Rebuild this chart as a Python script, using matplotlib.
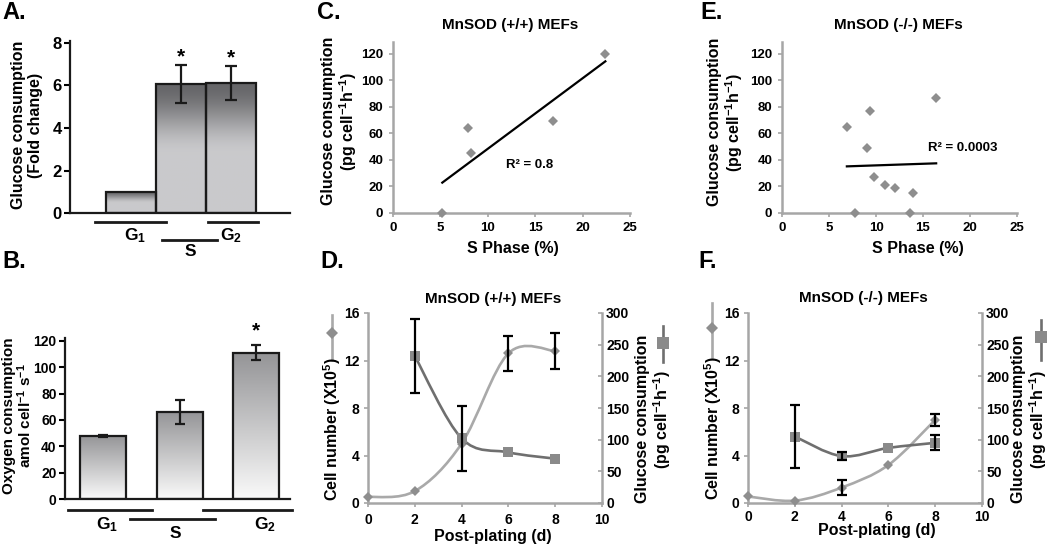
import numpy as np
import matplotlib
matplotlib.use('Agg')
import matplotlib.pyplot as plt
from matplotlib.path import Path
from matplotlib.patches import PathPatch
from matplotlib.lines import Line2D

plt.rcParams['font.family'] = ['Liberation Sans', 'DejaVu Sans']
plt.rcParams['font.weight'] = 'bold'
plt.rcParams['mathtext.fontset'] = 'custom'
plt.rcParams['mathtext.rm'] = 'Liberation Sans:bold'
plt.rcParams['mathtext.it'] = 'Liberation Sans:bold'
plt.rcParams['mathtext.bf'] = 'Liberation Sans:bold'
plt.rcParams['mathtext.sf'] = 'Liberation Sans:bold'
plt.rcParams['mathtext.default'] = 'regular'

nan = np.nan

# ---------------- data ----------------
phases = ['G$_1$', 'S', 'G$_2$']
glc_fold = [1.0, 6.05, 6.1]
glc_fold_err = [nan, 0.9, 0.8]
oxy = [48.0, 66.0, 111.0]
oxy_err = [0.8, 9.3, 5.7]

c_sphase = [5.2, 7.9, 8.2, 16.9, 22.4]
c_glc = [0, 64, 45, 69, 120]
e_sphase = [6.9, 7.8, 9.0, 9.4, 9.8, 11.0, 12.0, 13.6, 13.9, 16.4]
e_glc = [65, 0, 49, 77, 27, 21, 19, 0, 15, 87]

days = [0, 2, 4, 6, 8]
glc_days = [2, 4, 6, 8]
d_cells = [0.5, 1.0, 5.0, 12.6, 12.8]
d_cells_err = [nan, nan, nan, 1.5, 1.5]
d_glc = [232, 102, 80, 70]
d_glc_err = [58, 51, nan, nan]
f_cells = [0.55, 0.2, 1.3, 3.2, 7.0]
f_cells_err = [nan, nan, 0.65, nan, 0.5]
f_glc = [105, 74, 87, 95]
f_glc_err = [49, 6, nan, 12]

# ---------------- helpers ----------------
W, H = 1050, 547
fig = plt.figure(figsize=(10.5, 5.47), dpi=100)

def add_ax(l, t, r, b):
    return fig.add_axes([l / W, 1 - b / H, (r - l) / W, (b - t) / H])

def ftext(x, y, s, **kw):
    kw.setdefault('ha', 'center')
    kw.setdefault('va', 'center')
    return fig.text(x / W, 1 - y / H, s, **kw)

def fline(xs, ys, **kw):
    fig.add_artist(Line2D([x / W for x in xs], [1 - y / H for y in ys],
                          transform=fig.transFigure, **kw))

def smooth_path(x, y):
    x = np.asarray(x, float); y = np.asarray(y, float)
    n = len(x)
    verts = [(x[0], y[0])]
    codes = [Path.MOVETO]
    for i in range(n - 1):
        xp, yp = (x[i - 1], y[i - 1]) if i > 0 else (x[i], y[i])
        xn, yn = (x[i + 2], y[i + 2]) if i + 2 < n else (x[i + 1], y[i + 1])
        c1 = (x[i] + (x[i + 1] - xp) / 6, y[i] + (y[i + 1] - yp) / 6)
        c2 = (x[i + 1] - (xn - x[i]) / 6, y[i + 1] - (yn - y[i]) / 6)
        verts += [c1, c2, (x[i + 1], y[i + 1])]
        codes += [Path.CURVE4] * 3
    return Path(verts, codes)

def gradient_bars(ax, bars, top_rgb, bot_rgb, knee):
    t = np.linspace(0, 1, 256)
    f = np.clip((t - knee) / (1 - knee), 0, 1)
    f = f * f * (3 - 2 * f) if knee > 0 else t
    top = np.array(top_rgb); bot = np.array(bot_rgb)
    img = (bot[None, :] * (1 - f[:, None]) + top[None, :] * f[:, None]).reshape(256, 1, 3)
    for b in bars:
        x0, y0 = b.get_x(), b.get_y()
        w, h = b.get_width(), b.get_height()
        im = ax.imshow(img, extent=[x0, x0 + w, y0, y0 + h], origin='lower',
                       aspect='auto', zorder=1, interpolation='bilinear')
        im.set_clip_path(b)

GRAY_SP = '#a6a6a6'

# ---------------- Panel A ----------------
axA = add_ax(70, 41, 290, 213.3)
xa = np.arange(len(phases))
barsA = axA.bar(xa, glc_fold, width=1.0, facecolor='none', edgecolor='#1a1a1a',
                linewidth=1.6, zorder=3)
gradient_bars(axA, barsA, (0.40, 0.40, 0.41), (0.79, 0.79, 0.80), 0.45)
axA.errorbar(xa, glc_fold, yerr=glc_fold_err, fmt='none', ecolor='#1a1a1a',
             elinewidth=1.6, capsize=4, capthick=1.6, zorder=4)
for xi, v, e in zip(xa, glc_fold, glc_fold_err):
    if not np.isnan(e):
        axA.text(xi, v + e + 0.4, '*', ha='center', va='center', fontsize=15)
axA.set_xlim(-1.22, 3.18)
axA.set_ylim(0, 8.08)
axA.set_yticks([0, 2, 4, 6, 8])
axA.set_xticks([])
for s in ['top', 'right']:
    axA.spines[s].set_visible(False)
for s in ['left', 'bottom']:
    axA.spines[s].set_linewidth(1.6)
    axA.spines[s].set_color('#1a1a1a')
axA.tick_params(axis='y', direction='out', length=4, width=1.5, labelsize=12, pad=2)

fline([95, 166], [222, 222], color='#1a1a1a', lw=2)
fline([162, 217], [240, 240], color='#1a1a1a', lw=2)
fline([208, 258], [222, 222], color='#1a1a1a', lw=2)
ftext(135, 236, phases[0], fontsize=12.5)
ftext(190, 252, phases[1], fontsize=12.5)
ftext(231, 236, phases[2], fontsize=12.5)
ftext(27, 125, 'Glucose consumption\n(Fold change)', rotation=90, fontsize=11.5,
      linespacing=1.15)

# ---------------- Panel B ----------------
axB = add_ax(65, 338, 290, 499.3)
xb = np.arange(len(phases))
barsB = axB.bar(xb, oxy, width=0.6, facecolor='none', edgecolor='#1a1a1a',
                linewidth=1.6, zorder=3)
gradient_bars(axB, barsB, (0.58, 0.58, 0.59), (0.98, 0.98, 0.98), 0.0)
axB.errorbar(xb, oxy, yerr=oxy_err, fmt='none', ecolor='#1a1a1a',
             elinewidth=1.6, capsize=3.5, capthick=1.6, zorder=4)
axB.text(xb[2], oxy[2] + oxy_err[2] + 11, '*', ha='center', va='center', fontsize=15,
         clip_on=False)
axB.set_xlim(-0.495, 2.44)
axB.set_ylim(0, 122)
axB.set_yticks(range(0, 121, 20))
axB.set_xticks([])
for s in ['top', 'right']:
    axB.spines[s].set_visible(False)
for s in ['left', 'bottom']:
    axB.spines[s].set_linewidth(1.6)
    axB.spines[s].set_color('#1a1a1a')
axB.tick_params(axis='y', direction='out', length=4, width=1.5, labelsize=10, pad=2)

fline([68, 152], [510, 510], color='#1a1a1a', lw=2)
fline([130, 215], [519, 519], color='#1a1a1a', lw=2)
fline([203, 292], [510, 510], color='#1a1a1a', lw=2)
ftext(107, 525, phases[0], fontsize=12.5)
ftext(175, 534, phases[1], fontsize=12.5)
ftext(265, 525, phases[2], fontsize=12.5)
ftext(18, 416, 'Oxygen consumption\namol cell$^{-1}$ s$^{-1}$', rotation=90,
      fontsize=11, linespacing=1.0)

# ---------------- scatter panels C / E ----------------
def scatter_panel(ax, xs, ys):
    ax.plot(xs, ys, linestyle='none', marker='D', markersize=5.2,
            color='#8e8e8e', markeredgewidth=0, zorder=3, clip_on=False)
    k, c = np.polyfit(xs, ys, 1)
    xl = np.array([min(xs), max(xs)])
    ax.plot(xl, k * xl + c, color='black', lw=1.6, zorder=4)
    ax.set_xlim(0, 25)
    ax.set_ylim(0, 129)
    ax.set_xticks(range(0, 26, 5))
    ax.set_yticks(range(0, 121, 20))
    for s in ['top', 'right']:
        ax.spines[s].set_visible(False)
    for s in ['left', 'bottom']:
        ax.spines[s].set_linewidth(1.8)
        ax.spines[s].set_color(GRAY_SP)
    ax.tick_params(direction='out', length=3, width=1.2, color=GRAY_SP,
                   labelsize=9.5, pad=4)

axC = add_ax(393, 42, 630, 212.7)
scatter_panel(axC, c_sphase, c_glc)
axE = add_ax(782, 42, 1017, 212.7)
scatter_panel(axE, e_sphase, e_glc)

ftext(510, 25, 'MnSOD (+/+) MEFs', fontsize=11)
ftext(898, 25, 'MnSOD (-/-) MEFs', fontsize=11)
ftext(513, 248, 'S Phase (%)', fontsize=11.5)
ftext(918, 248, 'S Phase (%)', fontsize=11.5)
ftext(530, 165, 'R² = 0.8', fontsize=9.5)
ftext(963, 148, 'R² = 0.0003', fontsize=9.5)
ftext(340, 121, 'Glucose consumption\n(pg cell$^{-1}$h$^{-1}$)', rotation=90,
      fontsize=11.5, linespacing=1.1)
ftext(726, 122, 'Glucose consumption\n(pg cell$^{-1}$h$^{-1}$)', rotation=90,
      fontsize=11.5, linespacing=1.1)

# ---------------- growth panels D / F ----------------
CELL_LINE = '#a9a9a9'
CELL_MK = '#8e8e8e'
GLC_LINE = '#6f6f6f'
GLC_MK = '#8a8a8a'

def growth_panel(ax, cells, cells_err, glc, glc_err, xpad):
    ax.add_patch(PathPatch(smooth_path(days, cells), facecolor='none',
                           edgecolor=CELL_LINE, lw=1.9, zorder=2))
    ax.plot(days, cells, linestyle='none', marker='D', markersize=5,
            color=CELL_MK, markeredgewidth=0, zorder=3, clip_on=False)
    ax.errorbar(days, cells, yerr=cells_err, fmt='none', ecolor='black',
                elinewidth=1.6, capsize=3.5, capthick=1.6, zorder=5)
    ax.set_xlim(0, 10)
    ax.set_ylim(0, 16)
    ax.set_xticks(range(0, 11, 2))
    ax.set_yticks(range(0, 17, 4))
    for s in ['top', 'right']:
        ax.spines[s].set_visible(False)
    for s in ['left', 'bottom']:
        ax.spines[s].set_linewidth(1.8)
        ax.spines[s].set_color(GRAY_SP)
    ax.tick_params(direction='out', length=3, width=1.2, color=GRAY_SP,
                   labelsize=10, pad=3)
    ax.tick_params(axis='x', pad=xpad)
    tw = ax.twinx()
    tw.add_patch(PathPatch(smooth_path(glc_days, glc), facecolor='none',
                           edgecolor=GLC_LINE, lw=1.9, zorder=2))
    tw.plot(glc_days, glc, linestyle='none', marker='s', markersize=7.5,
            color=GLC_MK, markeredgewidth=0, zorder=3)
    tw.errorbar(glc_days, glc, yerr=glc_err, fmt='none', ecolor='black',
                elinewidth=1.6, capsize=3.5, capthick=1.6, zorder=5)
    tw.set_ylim(0, 300)
    tw.set_yticks(range(0, 301, 50))
    for s in ['top', 'left', 'bottom']:
        tw.spines[s].set_visible(False)
    tw.spines['right'].set_linewidth(1.8)
    tw.spines['right'].set_color(GRAY_SP)
    tw.tick_params(direction='in', length=3, width=1.2, color=GRAY_SP,
                   labelsize=10, pad=3)
    return tw

axD = add_ax(368, 313, 602, 503)
growth_panel(axD, d_cells, d_cells_err, d_glc, d_glc_err, 4)
axF = add_ax(748, 313, 982, 503)
growth_panel(axF, f_cells, f_cells_err, f_glc, f_glc_err, 2)

ftext(493, 299, 'MnSOD (+/+) MEFs', fontsize=11)
ftext(863, 298, 'MnSOD (-/-) MEFs', fontsize=11)
ftext(493, 537, 'Post-plating (d)', fontsize=11.5)
ftext(877, 531, 'Post-plating (d)', fontsize=11.5)

# axis titles with series keys
ftext(332, 429, 'Cell number (X10$^5$)', rotation=90, fontsize=11.5)
ftext(713, 428, 'Cell number (X10$^5$)', rotation=90, fontsize=11.5)
ftext(654, 419, 'Glucose consumption\n(pg cell$^{-1}$h$^{-1}$)', rotation=90,
      fontsize=11.5, linespacing=1.1)
ftext(1030, 419, 'Glucose consumption\n(pg cell$^{-1}$h$^{-1}$)', rotation=90,
      fontsize=11.5, linespacing=1.05)

def key(x, y0, y1, ym, marker, ms, lc, mc):
    fline([x, x], [y0, y1], color=lc, lw=1.9)
    fig.add_artist(Line2D([x / W], [1 - ym / H], transform=fig.transFigure,
                          marker=marker, markersize=ms, color=mc,
                          markeredgewidth=0, linestyle='none'))

key(332, 315, 360, 333, 'D', 6.5, CELL_LINE, CELL_MK)
key(712, 303, 357, 328, 'D', 6.5, CELL_LINE, CELL_MK)
key(663, 326, 362, 343, 's', 9, GLC_LINE, GLC_MK)
key(1041, 320, 360, 337, 's', 9, GLC_LINE, GLC_MK)

# panel letters
for lab, x, y in [('A.', 2, 1), ('B.', 2, 250), ('C.', 317, 1), ('D.', 320, 250),
                  ('E.', 700, 1), ('F.', 698, 250)]:
    ftext(x, y, lab, ha='left', va='top', fontsize=17)

fig.savefig('out.png', dpi=100)
